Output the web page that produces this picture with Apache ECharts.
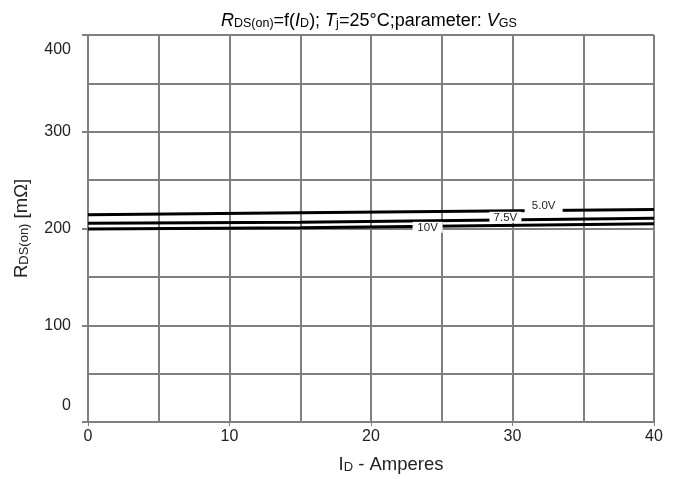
<!DOCTYPE html>
<html><head><meta charset="utf-8">
<script src="https://cdn.jsdelivr.net/npm/echarts@6/dist/echarts.min.js"></script>
<style>html,body{margin:0;padding:0;background:#fff}#c{width:678px;height:479px}</style>
</head><body><div id="c"></div>
<script>
// ---- data ----
const currentA = [0, 15, 40];          // I_D (A)
const r50 = [214.2, 216.3, 219.7];     // V_GS = 5.0V
const r75 = [205.3, 206.4, 210.5];     // V_GS = 7.5V
const r10 = [199.5, 200.8, 204.9];     // V_GS = 10V
const seriesNames = ['5.0V', '7.5V', '10V'];
const xTickLabels = [0, 10, 20, 30, 40];
const yTickLabels = [0, 100, 200, 300, 400];

// ---- layout (label anchors in data units) ----
const labelAnchor = { '5.0V': [32.2, 223.6], '7.5V': [29.5, 211.5], '10V': [24.0, 201.2] };
const labelBox = { '5.0V': [38, 14], '7.5V': [32, 11], '10V': [30, 11] };

const FONT = 'Liberation Sans, Arial, sans-serif';
const TXT = '#222';
const GRID = '#808080';

const values = [r50, r75, r10];
const series = seriesNames.map((n, k) => ({
  name: n,
  type: 'line',
  symbol: 'none',
  lineStyle: { color: '#000', width: 3 },
  data: currentA.map((x, i) => [x, values[k][i]]),
  markPoint: {
    symbol: 'rect',
    symbolSize: labelBox[n],
    itemStyle: { color: '#fff' },
    label: { show: true, position: 'inside', formatter: '{b}', color: TXT, fontSize: 11.5, fontFamily: FONT },
    data: [{ name: n, coord: labelAnchor[n] }]
  }
}));

const nameRich = {
  n: { fontSize: 18.5, fontFamily: FONT, color: TXT, fontWeight: 'normal', lineHeight: 22, verticalAlign: 'bottom' },
  s: { fontSize: 13, fontFamily: FONT, color: TXT, fontWeight: 'normal', lineHeight: 13, verticalAlign: 'bottom' }
};

const chart = echarts.init(document.getElementById('c'), null, { renderer: 'canvas' });
chart.setOption({
  animation: false,
  backgroundColor: '#fff',
  title: {
    text: '{i|R}{s|DS(on)}{n|=f(}{i|I}{s|D}{n|); }{i|T}{s|j}{n|=25°C;parameter: }{i|V}{s|GS}',
    left: 216, top: 5,
    textStyle: {
      fontFamily: FONT, color: '#000', fontWeight: 'normal',
      rich: {
        n: { fontSize: 18, fontFamily: FONT, color: '#000', fontWeight: 'normal', lineHeight: 20, verticalAlign: 'bottom' },
        i: { fontSize: 18, fontFamily: FONT, color: '#000', fontWeight: 'normal', fontStyle: 'italic', lineHeight: 20, verticalAlign: 'bottom' },
        s: { fontSize: 12.5, fontFamily: FONT, color: '#000', fontWeight: 'normal', lineHeight: 12, verticalAlign: 'bottom' }
      }
    }
  },
  grid: { left: 88, right: 24, top: 35, bottom: 55, containLabel: false },
  xAxis: {
    type: 'value', min: 0, max: 40, interval: 10,
    name: '{n|I}{s|D}{n| - Amperes}',
    nameLocation: 'middle', nameGap: 30,
    nameTextStyle: { fontSize: 18.5, fontFamily: FONT, color: TXT, rich: nameRich, padding: [0, 0, 0, 40] },
    axisLine: { show: true, lineStyle: { color: GRID, width: 2 } },
    axisTick: { show: true, inside: false, length: 4, lineStyle: { color: GRID, width: 1 } },
    axisLabel: { color: TXT, fontSize: 16, fontFamily: FONT, margin: 7,
      formatter: v => xTickLabels.includes(v) ? String(v) : '' },
    splitLine: { show: true, lineStyle: { color: GRID, width: 2 } },
    minorTick: { show: false, splitNumber: 2 },
    minorSplitLine: { show: true, lineStyle: { color: GRID, width: 2 } }
  },
  yAxis: {
    type: 'value', min: 0, max: 400, interval: 100,
    name: '{n|R}{s|DS(on)}{n| [mΩ]}',
    nameLocation: 'middle', nameGap: 57, nameRotate: 90,
    nameTextStyle: { fontSize: 18.5, fontFamily: FONT, color: TXT, rich: nameRich },
    axisLine: { show: true, lineStyle: { color: GRID, width: 2 } },
    axisTick: { show: true, inside: false, length: 6, lineStyle: { color: GRID, width: 2 } },
    axisLabel: {
      color: TXT, fontSize: 16, fontFamily: FONT, margin: 17,
      formatter: v => {
        if (!yTickLabels.includes(v)) return '';
        if (v === 400) return '{top|' + v + '}';
        if (v === 0) return '{bot|' + v + '}';
        return String(v);
      },
      rich: {
        top: { fontSize: 16, fontFamily: FONT, color: TXT, padding: [30, 0, 0, 0] },
        bot: { fontSize: 16, fontFamily: FONT, color: TXT, padding: [0, 0, 32, 0] }
      }
    },
    splitLine: { show: true, lineStyle: { color: GRID, width: 2 } },
    minorTick: { show: false, splitNumber: 2 },
    minorSplitLine: { show: true, lineStyle: { color: GRID, width: 2 } }
  },
  series: series
});
</script>
</body></html>
